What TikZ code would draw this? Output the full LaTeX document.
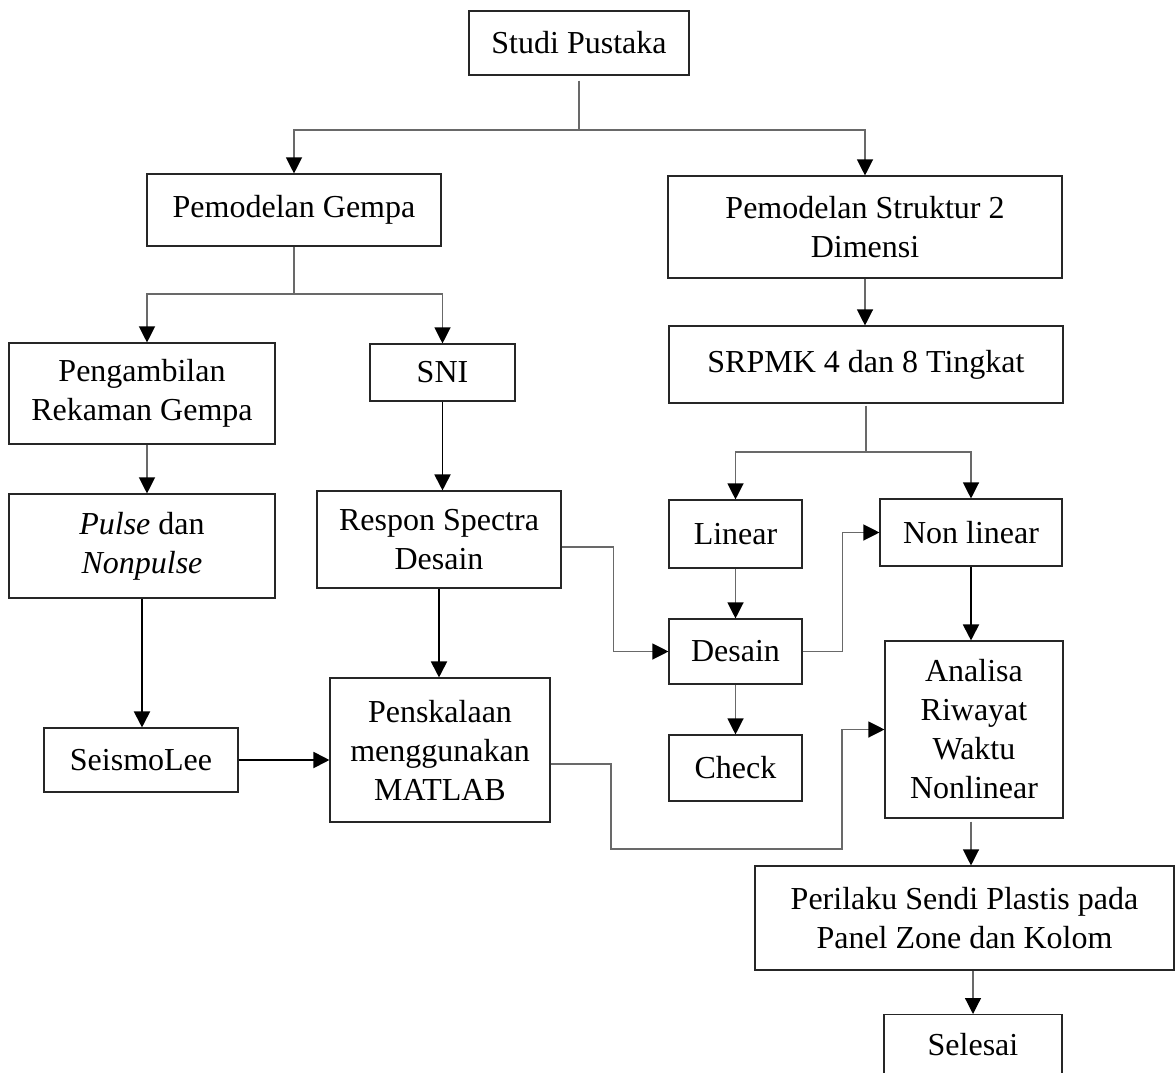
\documentclass[tikz,border=0pt]{standalone}
\usepackage{fontspec}
\setmainfont{Liberation Serif}
\usetikzlibrary{arrows.meta,calc}
\definecolor{gl}{RGB}{105,105,105}
\tikzset{
  box/.style={draw=black!85, line width=1.1pt, rectangle, inner sep=0pt, align=center,
    font=\fontsize{32}{39}\selectfont},
  tip/.style={-{Triangle[width=16pt,length=16pt,color=black]}},
  gline/.style={draw=gl, line width=1.2pt},
  bline/.style={draw=black, line width=1.9pt},
}
\begin{document}
\begin{tikzpicture}[x=1pt,y=-1pt]
\clip (0,0) rectangle (1176,1073);
\fill[white] (0,0) rectangle (1176,1073);

\node[box, minimum width=220, minimum height=64] (studi) at (579,43) {Studi Pustaka};
\node[box, minimum width=294, minimum height=72] (gempa) at (294,210) {Pemodelan Gempa};
\node[box, minimum width=394, minimum height=102] (struktur) at (865,227) {Pemodelan Struktur 2\\Dimensi};
\node[box, minimum width=266, minimum height=101] (ambil) at (142,393.5) {Pengambilan\\Rekaman Gempa};
\node[box, minimum width=145, minimum height=57] (sni) at (442.5,372.5) {SNI};
\node[box, minimum width=394, minimum height=77] (srpmk) at (866,364.5) {SRPMK 4 dan 8 Tingkat};
\node[box, minimum width=266, minimum height=104] (pulse) at (142,546) {\textit{Pulse} dan\\\textit{Nonpulse}};
\node[box, minimum width=244, minimum height=97] (respon) at (439,539.5) {Respon Spectra\\Desain};
\node[box, minimum width=133, minimum height=68] (linear) at (735.5,534) {Linear};
\node[box, minimum width=182, minimum height=67] (nonlin) at (971,532.5) {Non linear};
\node[box, minimum width=133, minimum height=65] (desain) at (735.5,651.5) {Desain};
\node[box, minimum width=133, minimum height=66] (check) at (735.5,768) {Check};
\node[box, minimum width=194, minimum height=64] (seismo) at (141,760) {SeismoLee};
\node[box, minimum width=220, minimum height=144] (skala) at (440,750) {Penskalaan\\menggunakan\\MATLAB};
\node[box, minimum width=178, minimum height=177] (analisa) at (974,729.5) {Analisa\\Riwayat\\Waktu\\Nonlinear};
\node[box, minimum width=419, minimum height=104] (perilaku) at (964.5,918) {Perilaku Sendi Plastis pada\\Panel Zone dan Kolom};
\node[box, minimum width=178, text height=41, text depth=60, anchor=north] (selesai) at (973,1014) {Selesai};

% junctions
\coordinate (j1) at (579,130);
\coordinate (j2) at (294,294);
\coordinate (j3) at (866,452);
\coordinate (c1) at (611,849);
\coordinate (c2) at (842,849);

% top split
\draw[gline, shorten <=5pt] (studi.south) -- (j1);
\draw[gline, tip] (j1) -| (gempa.north);
\draw[gline, tip] (j1) -| (struktur.north);

% gempa split
\draw[gline] (gempa.south) -- (j2);
\draw[gline, tip] (j2) -| ([xshift=5]ambil.north);
\draw[gline, tip] (j2) -| (sni.north);

% struktur
\draw[gline, tip] (struktur.south) -- (struktur.south |- srpmk.north);
\draw[gline, shorten <=2pt] (srpmk.south) -- (j3);
\draw[gline, tip] (j3) -| (linear.north);
\draw[gline, tip] (j3) -| (nonlin.north);

% left column
\draw[gline, tip] ([xshift=5]ambil.south) -- ([xshift=5]pulse.north);
\draw[bline, tip] (sni.south) -- (sni.south |- respon.north);
\draw[bline, tip] (pulse.south) -- (pulse.south |- seismo.north);
\draw[bline, tip] (respon.south) -- (respon.south |- skala.north);
\draw[bline, tip] (seismo.east) -- (seismo.east -| skala.west);

% middle column
\draw[gline, tip] (linear.south) -- (desain.north);
\draw[gline, tip] (desain.south) -- (check.north);
\draw[gline, tip] ([yshift=-7.5]respon.east) -- ++(52,0) |- (desain.west);
\draw[gline, tip] (desain.east) -- ++(40,0) |- (nonlin.west);

% right column
\draw[bline, tip] (nonlin.south) -- (nonlin.south |- analisa.north);
\draw[gline, tip] ([yshift=-14]skala.east) -| (c1) -- (c2) |- (analisa.west);
\draw[gline, tip, shorten <=3pt] ([xshift=-3]analisa.south) -- ([xshift=-3]analisa.south |- perilaku.north);
\draw[gline, tip] (selesai.north |- perilaku.south) -- (selesai.north);
\end{tikzpicture}
\end{document}
